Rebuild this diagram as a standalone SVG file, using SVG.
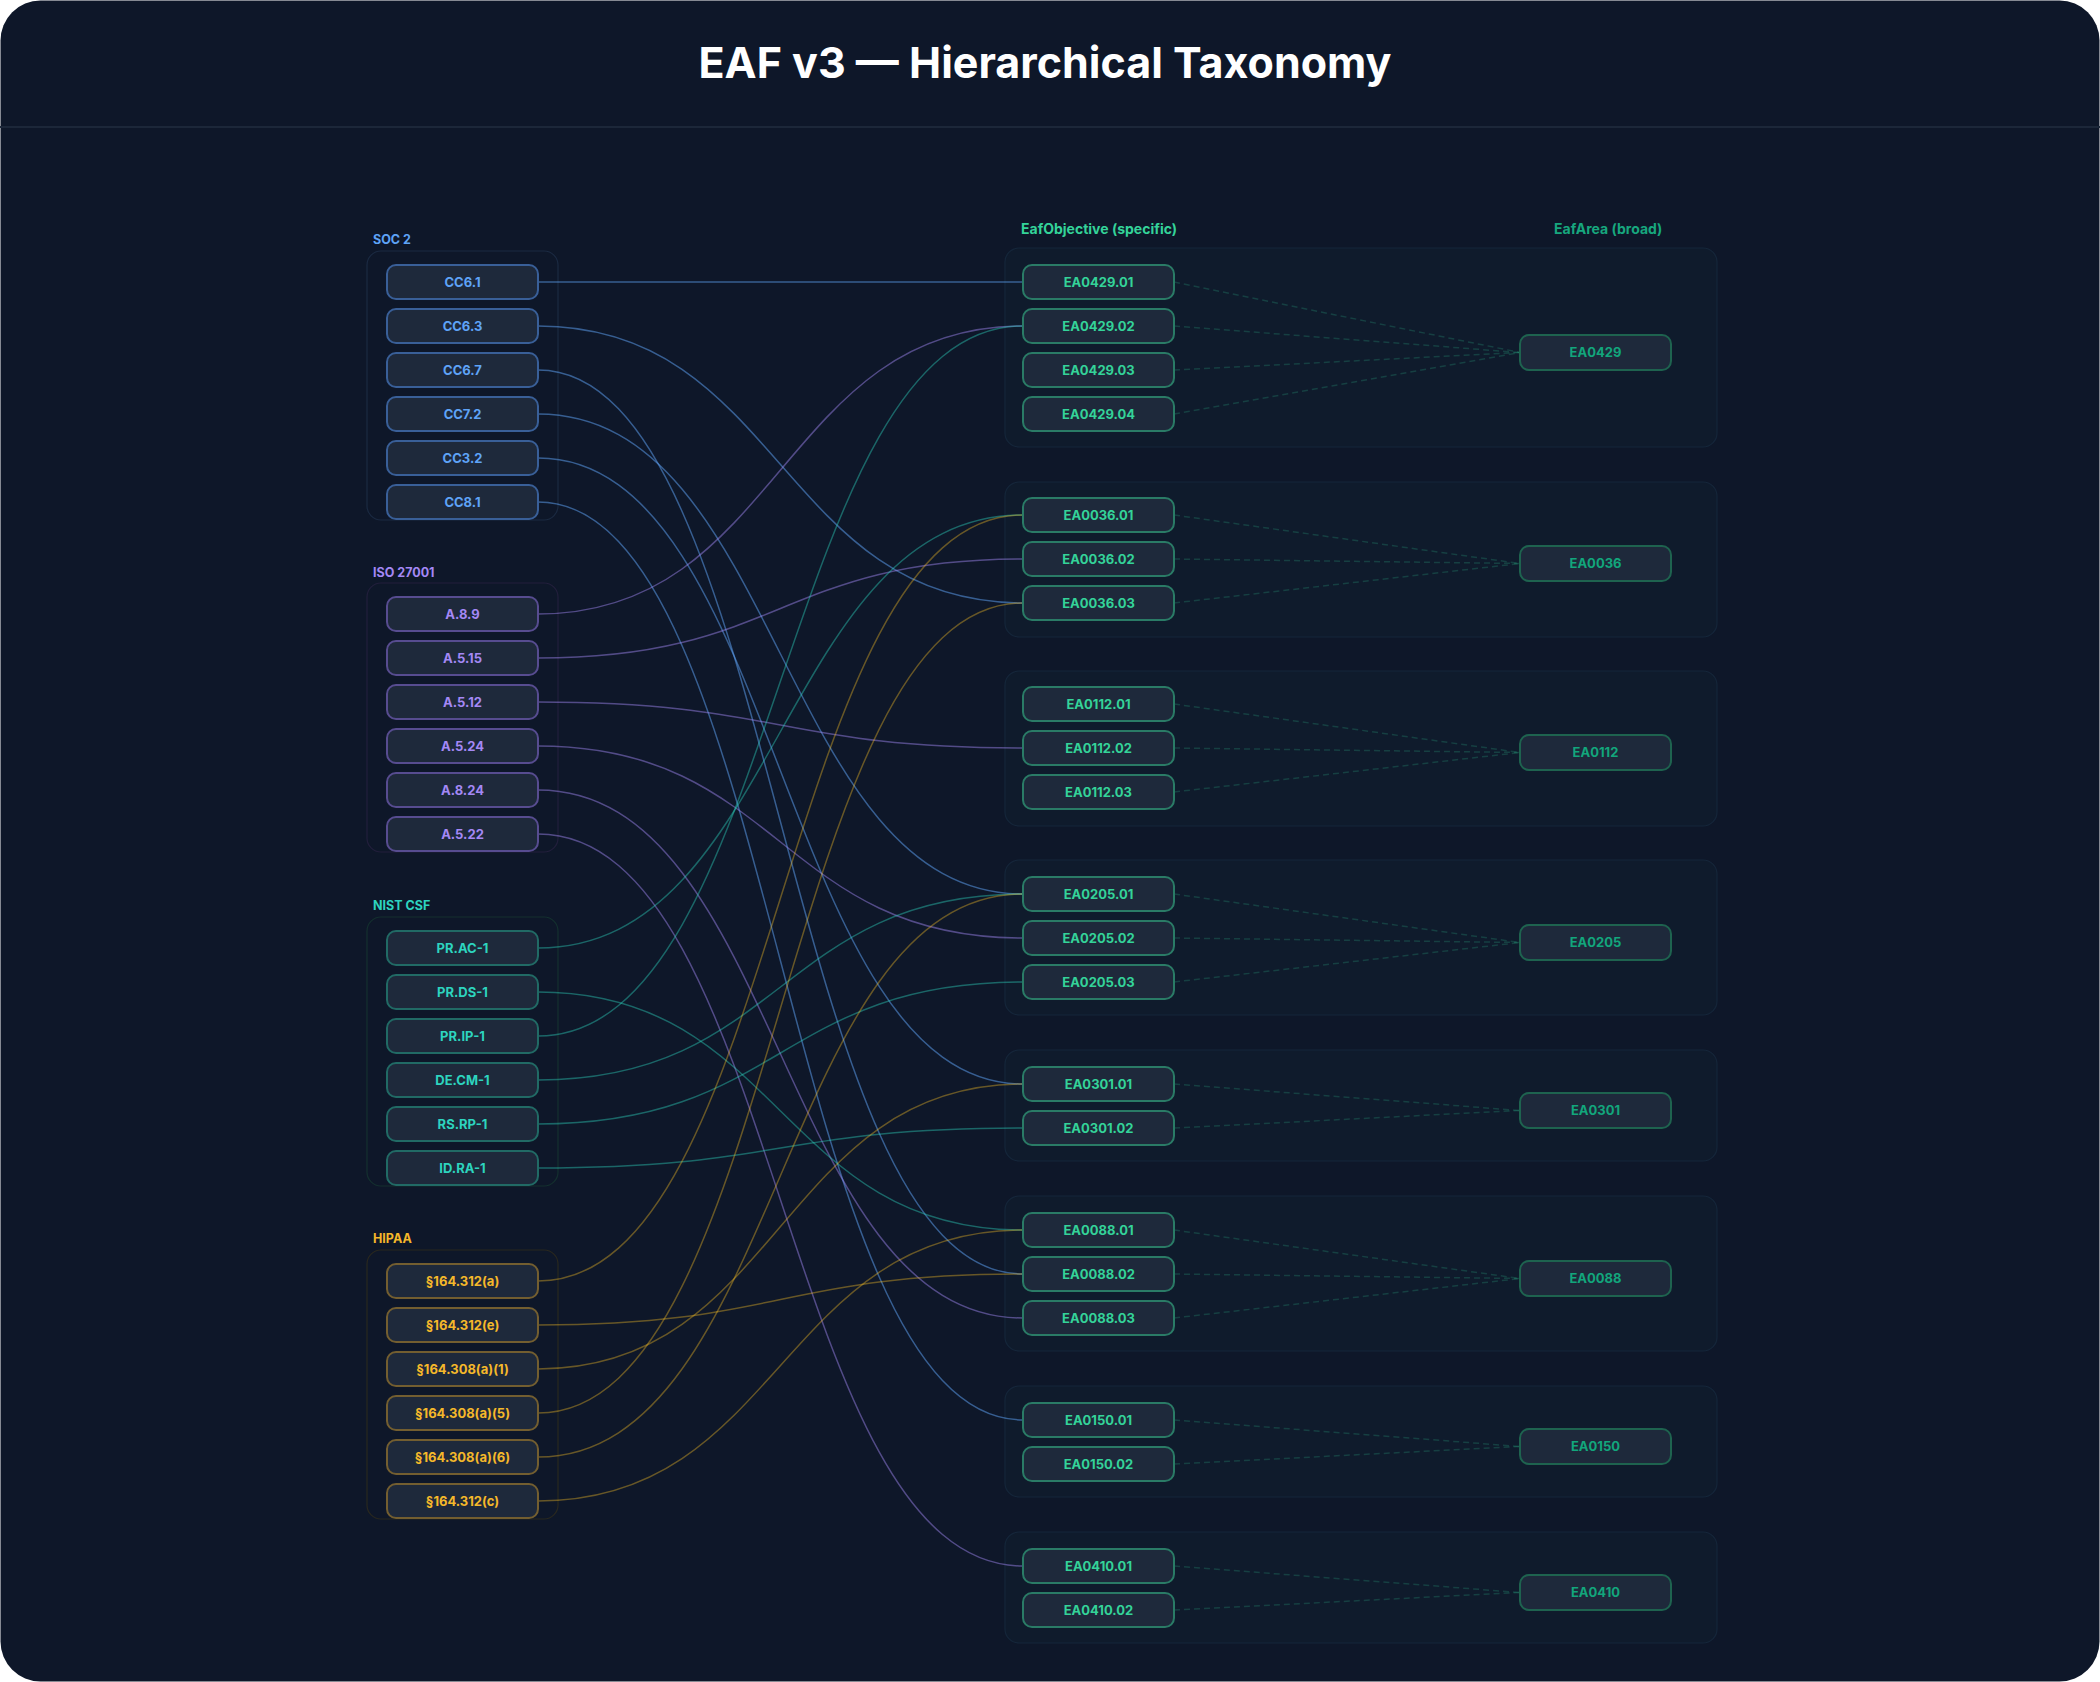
<svg xmlns="http://www.w3.org/2000/svg" width="2100" height="1682" viewBox="0 0 2100 1682">
<defs>
<style>
text{font-family:Inter,"Liberation Sans",sans-serif;font-weight:700;text-anchor:middle}
.title{font-size:43px;fill:#ffffff}
.glabel{font-size:12.5px;text-anchor:start}
.clabel{font-size:14px;text-anchor:start}
.n{fill:#1e293b;stroke-width:2}
.nt{font-size:13px}
.soc .n{stroke:#395f98}.soc text{fill:#5ea3f7}
.iso .n{stroke:#574c90}.iso text{fill:#a488f5}
.nist .n{stroke:#216a65}.nist text{fill:#2dd4bf}
.hip .n{stroke:#735e30}.hip text{fill:#f5b82a}
.obj .n{stroke:#2a7b66}.obj text{fill:#34d399}
.area .n{stroke:#1e634f}.area text{fill:#12a67c}
.grpL{fill:#0e1729;stroke-width:1.2}
.grpR{fill:#0f1b2c;stroke:#15263a;stroke-width:1.2}
.e{fill:none;stroke-width:1.5}
.eb{stroke:#60a5fa;stroke-opacity:.5}
.ep{stroke:#a78bfa;stroke-opacity:.45}
.et{stroke:#2dd4bf;stroke-opacity:.42}
.eg{stroke:#fbbf24;stroke-opacity:.38}
.d{fill:none;stroke:#34d399;stroke-opacity:.2;stroke-width:1.5;stroke-dasharray:6 4}
</style>
</defs>
<rect x="0" y="0" width="2100" height="1682" fill="#ffffff"/>
<rect x="0.5" y="0.5" width="2099" height="1681" rx="40" fill="#0e1729"/>
<line x1="0" y1="127" x2="2100" y2="127" stroke="#1c2739" stroke-width="2"/>
<text class="title" x="1045" y="78">EAF v3 — Hierarchical Taxonomy</text>

<!-- framework containers -->
<g id="fw-soc2" class="soc">
<rect class="grpL" x="367" y="251" width="191" height="269" rx="14" stroke="#1b2a42"/>
<text class="glabel" x="373" y="244">SOC 2</text>
</g>
<g id="fw-iso" class="iso">
<rect class="grpL" x="367" y="583" width="191" height="269" rx="14" stroke="#221f3c"/>
<text class="glabel" x="373" y="577">ISO 27001</text>
</g>
<g id="fw-nist" class="nist">
<rect class="grpL" x="367" y="917" width="191" height="269" rx="14" stroke="#14302f"/>
<text class="glabel" x="373" y="910">NIST CSF</text>
</g>
<g id="fw-hipaa" class="hip">
<rect class="grpL" x="367" y="1250" width="191" height="269" rx="14" stroke="#29281f"/>
<text class="glabel" x="373" y="1243">HIPAA</text>
</g>

<!-- right column labels and area groups -->
<text class="clabel" x="1021" y="234" style="fill:#34d399">EafObjective (specific)</text>
<text class="clabel" x="1554" y="234" style="fill:#17a77e">EafArea (broad)</text>
<g id="grp-EA0429"><rect class="grpR" x="1005" y="248" width="712" height="199" rx="14"/></g>
<g id="grp-EA0036"><rect class="grpR" x="1005" y="482" width="712" height="155" rx="14"/></g>
<g id="grp-EA0112"><rect class="grpR" x="1005" y="671" width="712" height="155" rx="14"/></g>
<g id="grp-EA0205"><rect class="grpR" x="1005" y="860" width="712" height="155" rx="14"/></g>
<g id="grp-EA0301"><rect class="grpR" x="1005" y="1050" width="712" height="111" rx="14"/></g>
<g id="grp-EA0088"><rect class="grpR" x="1005" y="1196" width="712" height="155" rx="14"/></g>
<g id="grp-EA0150"><rect class="grpR" x="1005" y="1386" width="712" height="111" rx="14"/></g>
<g id="grp-EA0410"><rect class="grpR" x="1005" y="1532" width="712" height="111" rx="14"/></g>

<!-- connectors -->
<g id="connectors">
<path class="e eb" d="M538,282 C780.5,282 780.5,282 1023,282"/>
<path class="e eb" d="M538,326 C780.5,326 780.5,603 1023,603"/>
<path class="e eb" d="M538,370 C780.5,370 780.5,1274 1023,1274"/>
<path class="e eb" d="M538,414 C780.5,414 780.5,894 1023,894"/>
<path class="e eb" d="M538,458 C780.5,458 780.5,1084 1023,1084"/>
<path class="e eb" d="M538,502 C780.5,502 780.5,1420 1023,1420"/>
<path class="e ep" d="M538,614 C780.5,614 780.5,326 1023,326"/>
<path class="e ep" d="M538,658 C780.5,658 780.5,559 1023,559"/>
<path class="e ep" d="M538,702 C780.5,702 780.5,748 1023,748"/>
<path class="e ep" d="M538,746 C780.5,746 780.5,938 1023,938"/>
<path class="e ep" d="M538,790 C780.5,790 780.5,1318 1023,1318"/>
<path class="e ep" d="M538,834 C780.5,834 780.5,1566 1023,1566"/>
<path class="e et" d="M538,948 C780.5,948 780.5,515 1023,515"/>
<path class="e et" d="M538,992 C780.5,992 780.5,1230 1023,1230"/>
<path class="e et" d="M538,1036 C780.5,1036 780.5,326 1023,326"/>
<path class="e et" d="M538,1080 C780.5,1080 780.5,894 1023,894"/>
<path class="e et" d="M538,1124 C780.5,1124 780.5,982 1023,982"/>
<path class="e et" d="M538,1168 C780.5,1168 780.5,1128 1023,1128"/>
<path class="e eg" d="M538,1281 C780.5,1281 780.5,515 1023,515"/>
<path class="e eg" d="M538,1325 C780.5,1325 780.5,1274 1023,1274"/>
<path class="e eg" d="M538,1369 C780.5,1369 780.5,1084 1023,1084"/>
<path class="e eg" d="M538,1413 C780.5,1413 780.5,603 1023,603"/>
<path class="e eg" d="M538,1457 C780.5,1457 780.5,894 1023,894"/>
<path class="e eg" d="M538,1501 C780.5,1501 780.5,1230 1023,1230"/>
<path class="d" d="M1174,282 L1520,352.5"/>
<path class="d" d="M1174,326 L1520,352.5"/>
<path class="d" d="M1174,370 L1520,352.5"/>
<path class="d" d="M1174,414 L1520,352.5"/>
<path class="d" d="M1174,515 L1520,563.5"/>
<path class="d" d="M1174,559 L1520,563.5"/>
<path class="d" d="M1174,603 L1520,563.5"/>
<path class="d" d="M1174,704 L1520,752.5"/>
<path class="d" d="M1174,748 L1520,752.5"/>
<path class="d" d="M1174,792 L1520,752.5"/>
<path class="d" d="M1174,894 L1520,942.5"/>
<path class="d" d="M1174,938 L1520,942.5"/>
<path class="d" d="M1174,982 L1520,942.5"/>
<path class="d" d="M1174,1084 L1520,1110.5"/>
<path class="d" d="M1174,1128 L1520,1110.5"/>
<path class="d" d="M1174,1230 L1520,1278.5"/>
<path class="d" d="M1174,1274 L1520,1278.5"/>
<path class="d" d="M1174,1318 L1520,1278.5"/>
<path class="d" d="M1174,1420 L1520,1446.5"/>
<path class="d" d="M1174,1464 L1520,1446.5"/>
<path class="d" d="M1174,1566 L1520,1592.5"/>
<path class="d" d="M1174,1610 L1520,1592.5"/>
</g>

<!-- source nodes -->
<g class="soc">
<g id="CC6.1"><rect class="n" x="387" y="265" width="151" height="34" rx="9"/><text class="nt" x="462.5" y="286.5">CC6.1</text></g>
<g id="CC6.3"><rect class="n" x="387" y="309" width="151" height="34" rx="9"/><text class="nt" x="462.5" y="330.5">CC6.3</text></g>
<g id="CC6.7"><rect class="n" x="387" y="353" width="151" height="34" rx="9"/><text class="nt" x="462.5" y="374.5">CC6.7</text></g>
<g id="CC7.2"><rect class="n" x="387" y="397" width="151" height="34" rx="9"/><text class="nt" x="462.5" y="418.5">CC7.2</text></g>
<g id="CC3.2"><rect class="n" x="387" y="441" width="151" height="34" rx="9"/><text class="nt" x="462.5" y="462.5">CC3.2</text></g>
<g id="CC8.1"><rect class="n" x="387" y="485" width="151" height="34" rx="9"/><text class="nt" x="462.5" y="506.5">CC8.1</text></g>
</g>
<g class="iso">
<g id="A.8.9"><rect class="n" x="387" y="597" width="151" height="34" rx="9"/><text class="nt" x="462.5" y="618.5">A.8.9</text></g>
<g id="A.5.15"><rect class="n" x="387" y="641" width="151" height="34" rx="9"/><text class="nt" x="462.5" y="662.5">A.5.15</text></g>
<g id="A.5.12"><rect class="n" x="387" y="685" width="151" height="34" rx="9"/><text class="nt" x="462.5" y="706.5">A.5.12</text></g>
<g id="A.5.24"><rect class="n" x="387" y="729" width="151" height="34" rx="9"/><text class="nt" x="462.5" y="750.5">A.5.24</text></g>
<g id="A.8.24"><rect class="n" x="387" y="773" width="151" height="34" rx="9"/><text class="nt" x="462.5" y="794.5">A.8.24</text></g>
<g id="A.5.22"><rect class="n" x="387" y="817" width="151" height="34" rx="9"/><text class="nt" x="462.5" y="838.5">A.5.22</text></g>
</g>
<g class="nist">
<g id="PR.AC-1"><rect class="n" x="387" y="931" width="151" height="34" rx="9"/><text class="nt" x="462.5" y="952.5">PR.AC-1</text></g>
<g id="PR.DS-1"><rect class="n" x="387" y="975" width="151" height="34" rx="9"/><text class="nt" x="462.5" y="996.5">PR.DS-1</text></g>
<g id="PR.IP-1"><rect class="n" x="387" y="1019" width="151" height="34" rx="9"/><text class="nt" x="462.5" y="1040.5">PR.IP-1</text></g>
<g id="DE.CM-1"><rect class="n" x="387" y="1063" width="151" height="34" rx="9"/><text class="nt" x="462.5" y="1084.5">DE.CM-1</text></g>
<g id="RS.RP-1"><rect class="n" x="387" y="1107" width="151" height="34" rx="9"/><text class="nt" x="462.5" y="1128.5">RS.RP-1</text></g>
<g id="ID.RA-1"><rect class="n" x="387" y="1151" width="151" height="34" rx="9"/><text class="nt" x="462.5" y="1172.5">ID.RA-1</text></g>
</g>
<g class="hip">
<g id="h164.312a"><rect class="n" x="387" y="1264" width="151" height="34" rx="9"/><text class="nt" x="462.5" y="1285.5">§164.312(a)</text></g>
<g id="h164.312e"><rect class="n" x="387" y="1308" width="151" height="34" rx="9"/><text class="nt" x="462.5" y="1329.5">§164.312(e)</text></g>
<g id="h164.308a1"><rect class="n" x="387" y="1352" width="151" height="34" rx="9"/><text class="nt" x="462.5" y="1373.5">§164.308(a)(1)</text></g>
<g id="h164.308a5"><rect class="n" x="387" y="1396" width="151" height="34" rx="9"/><text class="nt" x="462.5" y="1417.5">§164.308(a)(5)</text></g>
<g id="h164.308a6"><rect class="n" x="387" y="1440" width="151" height="34" rx="9"/><text class="nt" x="462.5" y="1461.5">§164.308(a)(6)</text></g>
<g id="h164.312c"><rect class="n" x="387" y="1484" width="151" height="34" rx="9"/><text class="nt" x="462.5" y="1505.5">§164.312(c)</text></g>
</g>

<!-- objective nodes -->
<g class="obj">
<g id="EA0429.01"><rect class="n" x="1023" y="265" width="151" height="34" rx="9"/><text class="nt" x="1098.5" y="286.5">EA0429.01</text></g>
<g id="EA0429.02"><rect class="n" x="1023" y="309" width="151" height="34" rx="9"/><text class="nt" x="1098.5" y="330.5">EA0429.02</text></g>
<g id="EA0429.03"><rect class="n" x="1023" y="353" width="151" height="34" rx="9"/><text class="nt" x="1098.5" y="374.5">EA0429.03</text></g>
<g id="EA0429.04"><rect class="n" x="1023" y="397" width="151" height="34" rx="9"/><text class="nt" x="1098.5" y="418.5">EA0429.04</text></g>
<g id="EA0036.01"><rect class="n" x="1023" y="498" width="151" height="34" rx="9"/><text class="nt" x="1098.5" y="519.5">EA0036.01</text></g>
<g id="EA0036.02"><rect class="n" x="1023" y="542" width="151" height="34" rx="9"/><text class="nt" x="1098.5" y="563.5">EA0036.02</text></g>
<g id="EA0036.03"><rect class="n" x="1023" y="586" width="151" height="34" rx="9"/><text class="nt" x="1098.5" y="607.5">EA0036.03</text></g>
<g id="EA0112.01"><rect class="n" x="1023" y="687" width="151" height="34" rx="9"/><text class="nt" x="1098.5" y="708.5">EA0112.01</text></g>
<g id="EA0112.02"><rect class="n" x="1023" y="731" width="151" height="34" rx="9"/><text class="nt" x="1098.5" y="752.5">EA0112.02</text></g>
<g id="EA0112.03"><rect class="n" x="1023" y="775" width="151" height="34" rx="9"/><text class="nt" x="1098.5" y="796.5">EA0112.03</text></g>
<g id="EA0205.01"><rect class="n" x="1023" y="877" width="151" height="34" rx="9"/><text class="nt" x="1098.5" y="898.5">EA0205.01</text></g>
<g id="EA0205.02"><rect class="n" x="1023" y="921" width="151" height="34" rx="9"/><text class="nt" x="1098.5" y="942.5">EA0205.02</text></g>
<g id="EA0205.03"><rect class="n" x="1023" y="965" width="151" height="34" rx="9"/><text class="nt" x="1098.5" y="986.5">EA0205.03</text></g>
<g id="EA0301.01"><rect class="n" x="1023" y="1067" width="151" height="34" rx="9"/><text class="nt" x="1098.5" y="1088.5">EA0301.01</text></g>
<g id="EA0301.02"><rect class="n" x="1023" y="1111" width="151" height="34" rx="9"/><text class="nt" x="1098.5" y="1132.5">EA0301.02</text></g>
<g id="EA0088.01"><rect class="n" x="1023" y="1213" width="151" height="34" rx="9"/><text class="nt" x="1098.5" y="1234.5">EA0088.01</text></g>
<g id="EA0088.02"><rect class="n" x="1023" y="1257" width="151" height="34" rx="9"/><text class="nt" x="1098.5" y="1278.5">EA0088.02</text></g>
<g id="EA0088.03"><rect class="n" x="1023" y="1301" width="151" height="34" rx="9"/><text class="nt" x="1098.5" y="1322.5">EA0088.03</text></g>
<g id="EA0150.01"><rect class="n" x="1023" y="1403" width="151" height="34" rx="9"/><text class="nt" x="1098.5" y="1424.5">EA0150.01</text></g>
<g id="EA0150.02"><rect class="n" x="1023" y="1447" width="151" height="34" rx="9"/><text class="nt" x="1098.5" y="1468.5">EA0150.02</text></g>
<g id="EA0410.01"><rect class="n" x="1023" y="1549" width="151" height="34" rx="9"/><text class="nt" x="1098.5" y="1570.5">EA0410.01</text></g>
<g id="EA0410.02"><rect class="n" x="1023" y="1593" width="151" height="34" rx="9"/><text class="nt" x="1098.5" y="1614.5">EA0410.02</text></g>
</g>

<!-- area nodes -->
<g class="area">
<g id="EA0429"><rect class="n" x="1520" y="335" width="151" height="35" rx="9"/><text class="nt" x="1595.5" y="357">EA0429</text></g>
<g id="EA0036"><rect class="n" x="1520" y="546" width="151" height="35" rx="9"/><text class="nt" x="1595.5" y="568">EA0036</text></g>
<g id="EA0112"><rect class="n" x="1520" y="735" width="151" height="35" rx="9"/><text class="nt" x="1595.5" y="757">EA0112</text></g>
<g id="EA0205"><rect class="n" x="1520" y="925" width="151" height="35" rx="9"/><text class="nt" x="1595.5" y="947">EA0205</text></g>
<g id="EA0301"><rect class="n" x="1520" y="1093" width="151" height="35" rx="9"/><text class="nt" x="1595.5" y="1115">EA0301</text></g>
<g id="EA0088"><rect class="n" x="1520" y="1261" width="151" height="35" rx="9"/><text class="nt" x="1595.5" y="1283">EA0088</text></g>
<g id="EA0150"><rect class="n" x="1520" y="1429" width="151" height="35" rx="9"/><text class="nt" x="1595.5" y="1451">EA0150</text></g>
<g id="EA0410"><rect class="n" x="1520" y="1575" width="151" height="35" rx="9"/><text class="nt" x="1595.5" y="1597">EA0410</text></g>
</g>
</svg>
